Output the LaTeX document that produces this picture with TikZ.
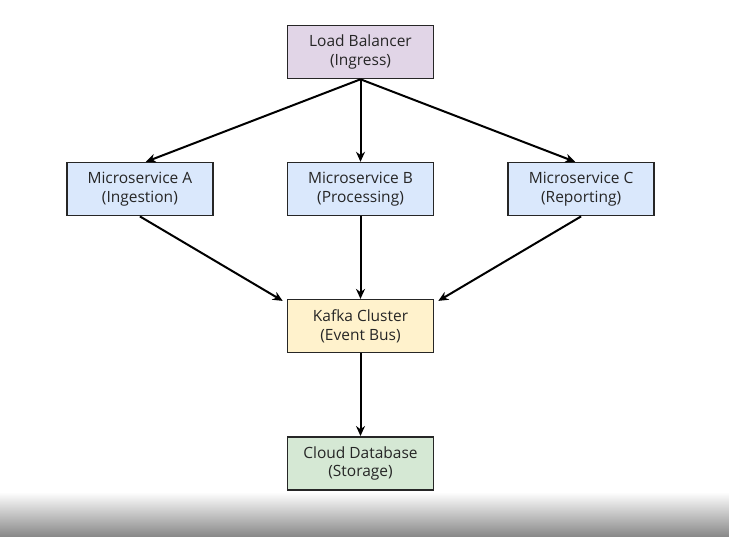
\documentclass[tikz,border=0pt]{standalone}
\usepackage{fontspec}
\setmainfont{Open Sans}
\usepackage{xcolor}
\usetikzlibrary{arrows.meta, positioning}

\definecolor{lbpurple}{HTML}{E1D5E7}
\definecolor{msblue}{HTML}{DAE8FC}
\definecolor{kafkayellow}{HTML}{FFF2CC}
\definecolor{dbgreen}{HTML}{D5E8D4}

\begin{document}
\begin{tikzpicture}[
    x=1pt, y=-1pt,
    node distance=82.5pt and 73pt,
    box/.style={draw=black!85, line width=1.6pt, align=center, minimum width=146pt, minimum height=53pt, inner sep=2pt, text=black!85, font=\fontsize{15.5}{18.5}\selectfont},
    arrow/.style={-{Stealth[length=10pt, width=9pt]}, line width=2pt}
]
\useasboundingbox (0,0) rectangle (729,537);
\shade[top color=white, bottom color=black!47] (0,492) rectangle (729,537);

\node[box, fill=lbpurple] (lb) at (360.5,52) {Load Balancer\\(Ingress)};
\node[box, fill=msblue, below=of lb] (msb) {Microservice B\\(Processing)};
\node[box, fill=msblue, left=of msb] (msa) {Microservice A\\(Ingestion)};
\node[box, fill=msblue, right=of msb] (msc) {Microservice C\\(Reporting)};
\node[box, fill=kafkayellow, below=of msb] (kafka) {Kafka Cluster\\(Event Bus)};
\node[box, fill=dbgreen, below=of kafka] (db) {Cloud Database\\(Storage)};

\draw[arrow] (lb.south) -- ([xshift=6pt]msa.north);
\draw[arrow] (lb.south) -- (msb.north);
\draw[arrow] (lb.south) -- ([xshift=-6pt]msc.north);
\draw[arrow] (msa.south) -- ([shift={(-4pt,-2pt)}]kafka.north west);
\draw[arrow] (msb.south) -- (kafka.north);
\draw[arrow] (msc.south) -- ([shift={(4pt,-2pt)}]kafka.north east);
\draw[arrow] (kafka.south) -- (db.north);
\end{tikzpicture}
\end{document}
